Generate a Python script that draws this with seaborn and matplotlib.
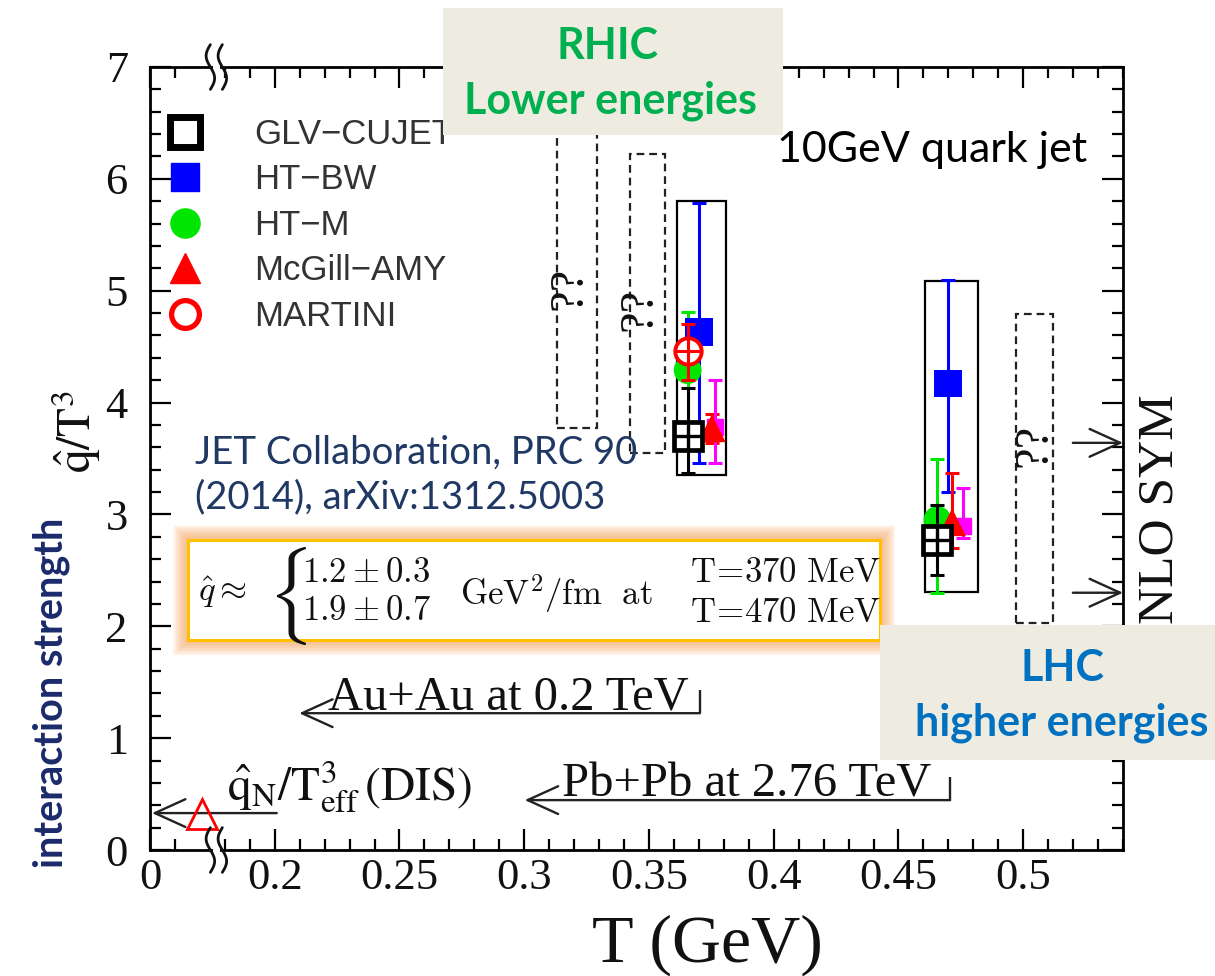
import numpy as np
import pandas as pd
import matplotlib
matplotlib.use("Agg")
import matplotlib.pyplot as plt
import seaborn as sns
from matplotlib.lines import Line2D
from matplotlib.patches import Rectangle
from matplotlib.font_manager import FontProperties

sns.set_theme(style="ticks")
plt.rcParams["font.family"] = ["Liberation Serif", "DejaVu Serif"]
plt.rcParams["mathtext.fontset"] = "stix"

# ---- extracted q-hat / T^3 values ----------------------------------------
models = ["GLV\u2212CUJET", "HT\u2212BW", "HT\u2212M", "McGill\u2212AMY", "MARTINI"]

# RHIC, Au+Au 0.2 TeV
rhic_T = [0.3655, 0.3700, 0.3655, 0.3752, 0.3655]
rhic_q = [3.70, 4.63, 4.29, 3.77, 4.46]
rhic_lo = [3.37, 3.46, 3.78, 3.64, 4.20]
rhic_hi = [4.13, 5.78, 4.81, 3.90, 4.70]

# LHC, Pb+Pb 2.76 TeV
lhc_T = [0.4654, 0.4700, 0.4656, 0.4715, np.nan]
lhc_q = [2.77, 4.17, 2.95, 2.93, np.nan]
lhc_lo = [2.46, 3.20, 2.30, 2.70, np.nan]
lhc_hi = [3.08, 5.10, 3.50, 3.37, np.nan]

# McGill-AMY variant (magenta)
amy2_T = [0.3766, 0.4760]
amy2_q = [3.78, 2.90]
amy2_lo = [3.46, 2.79]
amy2_hi = [4.20, 3.24]

# DIS reference (drawn on the compressed segment left of the axis break)
dis_T = [0.1707]
dis_q = [0.32]

# combined-range boxes (solid) and open-question boxes (dashed)
solid_T0 = [0.3611, 0.4607]
solid_T1 = [0.3808, 0.4820]
solid_q0 = [3.35, 2.31]
solid_q1 = [5.80, 5.09]
dashed_T0 = [0.3130, 0.3423, 0.4970]
dashed_T1 = [0.3290, 0.3563, 0.5120]
dashed_q0 = [3.77, 3.55, 2.03]
dashed_q1 = [6.75, 6.22, 4.79]

# collision-system temperature arrows
coll_labels = ["Au+Au at 0.2 TeV", "Pb+Pb at 2.76 TeV"]
coll_T_start = [0.3704, 0.4707]
coll_T_end = [0.2098, 0.3002]
coll_T_text = [0.2213, 0.3151]
coll_q = [1.223, 0.446]

# NLO SYM values (arrows on the right axis)
sym_q = [3.64, 2.30]

xtick_pos = [0.15, 0.20, 0.25, 0.30, 0.35, 0.40, 0.45, 0.50]
xtick_lab = ["0", "0.2", "0.25", "0.3", "0.35", "0.4", "0.45", "0.5"]

colors = ["black", "#0000FF", "#00E600", "#FF0000", "#FF0000"]
amy2_color = "#FF00FF"

W, H = 1215, 976
fig = plt.figure(figsize=(W / 100, H / 100), dpi=100)
fig.patch.set_facecolor("white")
ax = fig.add_axes([150 / W, 126 / H, 973 / W, 783 / H])
ax.set_facecolor("white")


def fx(px):
    return px / W


def fy(py):
    return 1 - py / H


# ---- boxes --------------------------------------------------------------
for t0, t1, a, b in zip(solid_T0, solid_T1, solid_q0, solid_q1):
    ax.add_patch(Rectangle((t0, a), t1 - t0, b - a, fill=False, ec="black", lw=1.6, zorder=2))
for t0, t1, a, b in zip(dashed_T0, dashed_T1, dashed_q0, dashed_q1):
    ax.add_patch(Rectangle((t0, a), t1 - t0, b - a, fill=False, ec="#222222", lw=1.6,
                           ls=(0, (3.5, 2.2)), zorder=2))
for x, y in [(0.3183, 5.02), (0.3463, 4.83), (0.5047, 3.62)]:
    ax.text(x, y, "??", rotation=90, ha="center", va="center", fontsize=35, color="#111111", zorder=3)

# ---- error bars ---------------------------------------------------------
eb_kw = dict(fmt="none", elinewidth=2.2, capsize=5, capthick=2.2)
draw_order = [1, 2, 3, 4, 0]
for i in draw_order:
    T = np.array([rhic_T[i], lhc_T[i]])
    q = np.array([rhic_q[i], lhc_q[i]])
    lo = np.array([rhic_lo[i], lhc_lo[i]])
    hi = np.array([rhic_hi[i], lhc_hi[i]])
    z = 7 if i == 0 else (6 if i == 4 else 3)
    ax.errorbar(T, q, yerr=[q - lo, hi - q], ecolor=colors[i], zorder=z, **eb_kw)

a2T = np.array(amy2_T); a2q = np.array(amy2_q)
ax.errorbar(a2T, a2q, yerr=[a2q - np.array(amy2_lo), np.array(amy2_hi) - a2q],
            ecolor=amy2_color, zorder=3, **eb_kw)
ax.plot(a2T, a2q, ls="none", marker="s", ms=11, color=amy2_color, zorder=3.5)

# ---- filled markers via seaborn ----------------------------------------
filled = pd.DataFrame({
    "model": [models[i] for i in (1, 2, 3) for _ in range(2)],
    "T": [v for i in (1, 2, 3) for v in (rhic_T[i], lhc_T[i])],
    "q": [v for i in (1, 2, 3) for v in (rhic_q[i], lhc_q[i])],
})
sns.scatterplot(data=filled, x="T", y="q", hue="model", style="model",
                palette={models[1]: colors[1], models[2]: colors[2], models[3]: colors[3]},
                markers={models[1]: "s", models[2]: "o", models[3]: "^"},
                s=400, linewidth=0, legend=False, ax=ax, zorder=4)

# open markers: GLV-CUJET squares and MARTINI circles with inner cross
ax.plot([rhic_T[4], lhc_T[4]], [rhic_q[4], lhc_q[4]], ls="none", marker="o", ms=19,
        mfc="white", mec=colors[4], mew=2.8, zorder=5)
ax.plot([rhic_T[4], lhc_T[4]], [rhic_q[4], lhc_q[4]], ls="none", marker="+", ms=19,
        mec=colors[4], mew=2.2, zorder=6)
ax.plot([rhic_T[0], lhc_T[0]], [rhic_q[0], lhc_q[0]], ls="none", marker="s", ms=20,
        mfc="white", mec="black", mew=3.4, zorder=6.5)
ax.plot([rhic_T[0], lhc_T[0]], [rhic_q[0], lhc_q[0]], ls="none", marker="+", ms=20,
        mec="black", mew=2.4, zorder=7)

# DIS point
ax.plot(dis_T, dis_q, ls="none", marker="^", ms=22, mfc="none", mec="#FF0000", mew=2.0, zorder=5,
        clip_on=False)

# ---- arrows -------------------------------------------------------------
arr_kw = dict(arrowstyle="->,head_length=1.1,head_width=0.5", color="#222222", lw=1.7,
              shrinkA=0, shrinkB=0, mutation_scale=20)
for lab, t0, t1, tt, q in zip(coll_labels, coll_T_start, coll_T_end, coll_T_text, coll_q):
    ax.annotate("", xy=(t1, q), xytext=(t0, q), arrowprops=arr_kw, zorder=4)
    ax.plot([t0, t0], [q, q + 0.21], color="#222222", lw=1.7, zorder=4, solid_capstyle="butt")
    ax.text(tt, q + 0.035, lab, fontsize=35, ha="left", va="baseline", color="#111111", zorder=4)

ax.annotate("", xy=(0.1508, dis_q[0] + 0.01), xytext=(0.2008, dis_q[0] + 0.01),
            arrowprops=arr_kw, zorder=4, annotation_clip=False)
ax.text(0.1808, 0.44, r"$\hat{\rm q}_{\rm N}/{\rm T}^3_{\rm eff}\,{\rm (DIS)}$",
        fontsize=34, ha="left", va="baseline", color="#111111", zorder=4)

for q in sym_q:
    ax.annotate("", xy=(0.5400, q), xytext=(0.5199, q), arrowprops=arr_kw, zorder=4,
                annotation_clip=False)
ax.text(0.5548, 2.02, "NLO SYM", rotation=90, ha="center", va="bottom", fontsize=37,
        color="#111111", clip_on=False, zorder=4)

# ---- axes, ticks --------------------------------------------------------
ax.set_xlim(0.15, 0.54)
ax.set_ylim(0, 7)
ax.set_xticks(xtick_pos)
ax.set_xticklabels(xtick_lab)
minor_x = [0.16] + [round(v, 2) for v in np.arange(0.18, 0.545, 0.01)
                    if round(v, 2) not in [round(p, 2) for p in xtick_pos]]
ax.set_xticks(minor_x, minor=True)
ax.set_yticks(range(8))
ax.set_yticks([v / 5 for v in range(36) if v % 5], minor=True)
ax.tick_params(which="both", direction="in", top=True, right=True, color="black", width=1.6)
ax.tick_params(which="major", length=15)
ax.tick_params(which="minor", length=8)
ax.tick_params(axis="x", which="major", labelsize=32, pad=6)
ax.tick_params(axis="y", which="major", labelsize=32, pad=16)
for lab in ax.get_xticklabels() + ax.get_yticklabels():
    lab.set_fontfamily("Liberation Serif")
    lab.set_color("#111111")
for sp in ax.spines.values():
    sp.set_color("black")
    sp.set_linewidth(2.0)
ax.set_xlabel("")
ax.set_ylabel("")
ax.grid(False)


def axis_break(yc):
    s = np.linspace(-1, 1, 80)
    xc = 0.1742
    ax.add_patch(Rectangle((xc + 0.0010, yc - 0.05), 0.0030, 0.10, fc="white", ec="none",
                           clip_on=False, zorder=8))
    for dx in (0.0, 0.0048):
        ax.plot(xc + dx - 0.0017 * np.sin(np.pi * s), yc + 0.20 * s, color="#111111", lw=2.0,
                clip_on=False, zorder=9)


axis_break(0.0)
axis_break(7.0)

# ---- legend -------------------------------------------------------------
handles = [
    Line2D([], [], ls="none", marker="s", ms=21, mfc="white", mec="black", mew=5),
    Line2D([], [], ls="none", marker="s", ms=20, mfc=colors[1], mec=colors[1]),
    Line2D([], [], ls="none", marker="o", ms=21, mfc=colors[2], mec=colors[2]),
    Line2D([], [], ls="none", marker="^", ms=21, mfc=colors[3], mec=colors[3]),
    Line2D([], [], ls="none", marker="o", ms=20, mfc="white", mec=colors[4], mew=3.8),
]
leg = ax.legend(handles, models, loc="upper left", bbox_to_anchor=(0.0144, 0.935),
                frameon=False, prop=FontProperties(family="Liberation Sans", size=25),
                handlelength=1.2, handletextpad=1.4, labelspacing=0.36, borderpad=0,
                borderaxespad=0)
leg.set_zorder(5)
for t in leg.get_texts():
    t.set_color("#333333")

# ---- axis titles --------------------------------------------------------
fig.text(fx(707), fy(945), "T (GeV)", fontsize=49, ha="center", va="center", color="#111111")
fig.text(fx(76), fy(432), r"$\hat{\rm q}/{\rm T}^3$", fontsize=34, rotation=90,
         ha="center", va="center", color="#111111")
fig.text(fx(51), fy(693), "interaction strength", fontsize=28.5, rotation=90, ha="center",
         va="center", color="#1B2A6B", family="Lato", weight="bold")

# ---- annotations --------------------------------------------------------
fig.text(fx(195), fy(475), "JET Collaboration, PRC 90\n(2014), arXiv:1312.5003", fontsize=27.5,
         ha="left", va="center", color="#1F3864", family="Lato", linespacing=1.28, zorder=12)
fig.text(fx(777), fy(150), "10GeV quark jet", fontsize=31, ha="left", va="center",
         color="black", family="Lato", zorder=12)

# formula box with soft glow
bx0, by0, bx1, by1 = 188, 540, 880, 640
for k in range(10):
    p = 15 - 1.5 * k
    fig.add_artist(Rectangle((fx(bx0 - p), fy(by1 + p)), (bx1 - bx0 + 2 * p) / W,
                             (by1 - by0 + 2 * p) / H, transform=fig.transFigure,
                             fc="#F6A863", ec="none", alpha=0.11, zorder=20))
fig.add_artist(Rectangle((fx(bx0), fy(by1)), (bx1 - bx0) / W, (by1 - by0) / H,
                         transform=fig.transFigure, fc="white", ec="#FFC000", lw=2.2, zorder=21))
ftxt = dict(fontsize=25, color="#111111", math_fontfamily="cm", zorder=22)
fig.text(fx(198), fy(592), r"$\hat{q}\approx$", ha="left", va="center", **ftxt)
fig.text(fx(287), fy(596), r"$\{$", ha="center", va="center", fontsize=58, color="#111111",
         math_fontfamily="cm", zorder=22)
fig.text(fx(302), fy(574), r"$1.2\pm0.3$", ha="left", va="center", **ftxt)
fig.text(fx(302), fy(612), r"$1.9\pm0.7$", ha="left", va="center", **ftxt)
fig.text(fx(460), fy(594), r"$\mathrm{GeV}^2/\mathrm{fm}\ \ \mathrm{at}$", ha="left", va="center", **ftxt)
fig.text(fx(690), fy(574), r"$\mathrm{T\!=\!370\ MeV}$", ha="left", va="center", **ftxt)
fig.text(fx(690), fy(613), r"$\mathrm{T\!=\!470\ MeV}$", ha="left", va="center", **ftxt)

# collider labels
fig.add_artist(Rectangle((fx(443), fy(135)), (783 - 443) / W, (135 - 8) / H,
                         transform=fig.transFigure, fc="#EEECE1", ec="none", zorder=30))
fig.text(fx(608), fy(46), "RHIC", fontsize=31, ha="center", va="center", color="#00B050",
         family="Lato", weight="bold", zorder=31)
fig.text(fx(610), fy(101), "Lower energies", fontsize=31, ha="center", va="center",
         color="#00B050", family="Lato", weight="bold", zorder=31)
fig.add_artist(Rectangle((fx(880), fy(760)), (W - 880) / W, (760 - 625) / H,
                         transform=fig.transFigure, fc="#EEECE1", ec="none", zorder=30))
fig.text(fx(1062), fy(668), "LHC", fontsize=31, ha="center", va="center", color="#0070C0",
         family="Lato", weight="bold", zorder=31)
fig.text(fx(1062), fy(723), "higher energies", fontsize=31, ha="center", va="center",
         color="#0070C0", family="Lato", weight="bold", zorder=31)

fig.savefig("out.png", dpi=100, facecolor="white")
